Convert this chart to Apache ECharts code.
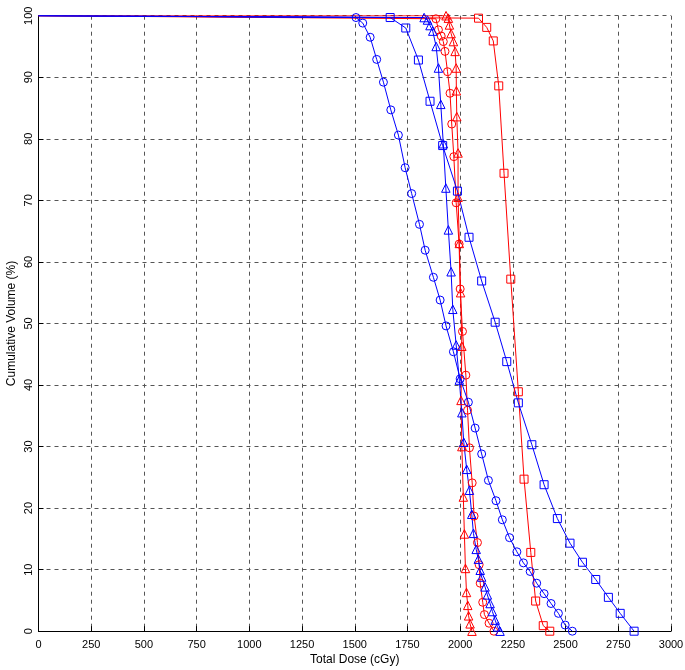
<!DOCTYPE html>
<html>
<head>
<meta charset="utf-8">
<script src="https://cdn.jsdelivr.net/npm/echarts@6/dist/echarts.min.js"></script>
<style>html,body{margin:0;padding:0;background:#fff}#c{width:685px;height:670px}</style>
</head>
<body>
<div id="c"></div>
<script>
// Tick settings
const xTicks = [0,250,500,750,1000,1250,1500,1750,2000,2250,2500,2750,3000];
const yTicks = [0,10,20,30,40,50,60,70,80,90,100];

// Red square curve [dose, volume]
const redSquare = [[0,100],[2087,99.6],[2126,98.1],[2157,95.9],[2183,88.6],[2208,74.4],[2240,57.2],[2276,38.9],[2303,24.7],[2335,12.8],[2358,4.9],[2394,0.9],[2425,0]];
// Red circle curve
const redCircle = [[0,100],[1885,99.5],[1897,97.7],[1910,96.7],[1920,95.8],[1928,94.2],[1940,90.9],[1952,87.4],[1960,82.4],[1970,77.1],[1981,69.6],[1995,62.9],[2000,55.6],[2011,48.7],[2027,41.6],[2035,35.9],[2044,29.8],[2057,24.1],[2066,18.7],[2082,14.4],[2090,10.8],[2095,7.8],[2107,4.7],[2115,2.7],[2137,1.3],[2160,0]];
// Red triangle curve
const redTriangle = [[0,100],[1933,100],[1944,99.6],[1949,98.5],[1957,97.1],[1968,95.8],[1976,94.2],[1981,91.5],[1982,87.8],[1984,83.6],[1990,77.7],[1990,70.5],[1996,63],[2002,55],[2008,46.3],[2004,37.5],[2008,30],[2015,21.8],[2020,15.8],[2025,10.2],[2030,6.3],[2036,4.2],[2040,2.5],[2047,1.2],[2056,0]];
// Blue square curve
const blueSquare = [[0,100],[1668,99.7],[1742,98],[1802,92.8],[1857,86.1],[1917,78.9],[1987,71.5],[2042,64],[2102,56.9],[2166,50.2],[2221,43.8],[2276,37.1],[2340,30.3],[2398,23.8],[2461,18.3],[2521,14.3],[2580,11.2],[2643,8.4],[2703,5.5],[2759,2.9],[2825,0]];
// Blue circle curve
const blueCircle = [[0,100],[1506,99.7],[1538,98.8],[1573,96.5],[1604,92.9],[1636,89.2],[1671,84.7],[1707,80.6],[1739,75.3],[1770,71.1],[1807,66.1],[1834,61.9],[1873,57.5],[1905,53.8],[1933,49.6],[1968,45.4],[2000,41],[2039,37.2],[2071,33],[2102,28.8],[2134,24.5],[2170,21.2],[2200,18.1],[2234,15.2],[2269,12.9],[2300,11.1],[2332,9.7],[2363,7.8],[2398,6.1],[2431,4.5],[2466,2.9],[2498,1],[2532,0]];
// Blue triangle curve
const blueTriangle = [[0,100],[1829,99.7],[1845,99.3],[1857,98.4],[1870,97.5],[1886,95],[1897,91.5],[1908,85.6],[1920,79.2],[1932,72],[1944,65.2],[1957,58.4],[1965,52.3],[1981,46.5],[1996,40.8],[2008,35.5],[2017,30.7],[2031,26.3],[2044,22.9],[2055,19],[2063,15.9],[2076,13.3],[2086,11.7],[2095,9.9],[2102,8.8],[2118,7.2],[2129,5.9],[2142,4.5],[2153,3.2],[2166,1.8],[2177,0.7],[2189,0]];

function mk(name, data, color, symbol) {
  return {
    name: name, type: 'line', data: data.map((p, i) => i === 0 ? {value: p, symbol: 'none'} : {value: p}),
    symbol: symbol, symbolSize: symbol === 'triangle' ? 8.5 : 8, showAllSymbol: true,
    lineStyle: {color: color, width: 1},
    itemStyle: {color: 'rgba(0,0,0,0)', borderColor: color, borderWidth: 1},
    emphasis: {disabled: true}, animation: false, z: 3
  };
}

const chart = echarts.init(document.getElementById('c'), null, {renderer: 'canvas'});
const font = 'Liberation Sans, Arial, sans-serif';
chart.setOption({
  backgroundColor: '#fff',
  animation: false,
  grid: {left: 38.5, right: 14, top: 15.7, bottom: 38.8, containLabel: false, outerBoundsMode: 'none'},
  xAxis: {
    type: 'value', min: xTicks[0], max: xTicks[xTicks.length-1], interval: 250,
    name: 'Total Dose (cGy)', nameLocation: 'middle', nameGap: 22, nameMoveOverlap: false,
    nameTextStyle: {fontFamily: font, fontSize: 12, color: '#000'},
    axisLine: {show: true, lineStyle: {color: '#000', width: 1}},
    axisTick: {show: true, inside: true, length: 5, lineStyle: {color: '#000'}},
    axisLabel: {fontFamily: font, fontSize: 11, color: '#000', margin: 8, formatter: v => String(v)},
    splitLine: {show: true, lineStyle: {color: '#555', type: [4, 4], width: 1}}
  },
  yAxis: {
    type: 'value', min: yTicks[0], max: yTicks[yTicks.length-1], interval: 10,
    name: 'Cumulative Volume (%)', nameLocation: 'middle', nameGap: 21, nameMoveOverlap: false,
    nameTextStyle: {fontFamily: font, fontSize: 12, color: '#000'},
    axisLine: {show: true, lineStyle: {color: '#000', width: 1}},
    axisTick: {show: true, inside: true, length: 5, lineStyle: {color: '#000'}},
    axisLabel: {fontFamily: font, fontSize: 11, color: '#000', rotate: 90, margin: 4, formatter: v => String(v)},
    splitLine: {show: true, lineStyle: {color: '#555', type: [4, 4], width: 1}}
  },
  series: [
    mk('RS', redSquare, '#ff0000', 'rect'),
    mk('RC', redCircle, '#ff0000', 'circle'),
    mk('RT', redTriangle, '#ff0000', 'triangle'),
    mk('BS', blueSquare, '#0000ff', 'rect'),
    mk('BC', blueCircle, '#0000ff', 'circle'),
    mk('BT', blueTriangle, '#0000ff', 'triangle')
  ]
});
</script>
</body>
</html>
